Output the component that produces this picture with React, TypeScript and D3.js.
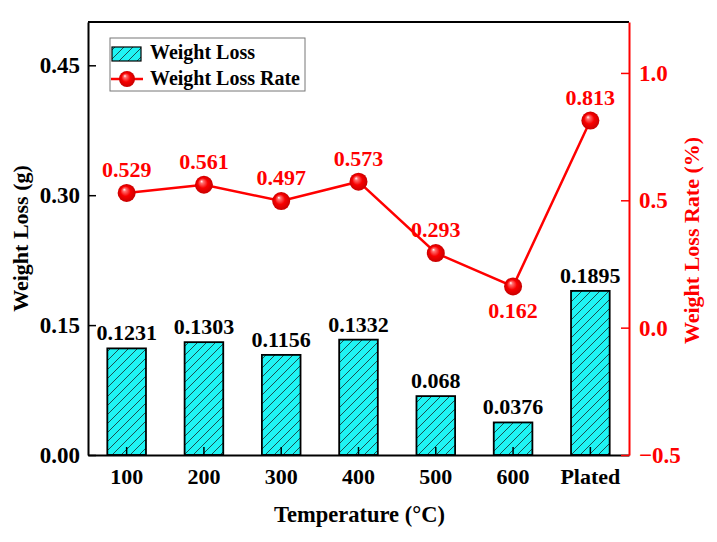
import React, { useEffect, useRef } from 'react';
import * as d3 from 'd3';

const categories = ['100', '200', '300', '400', '500', '600', 'Plated'];
const weightLoss = [0.1231, 0.1303, 0.1156, 0.1332, 0.068, 0.0376, 0.1895];
const weightLossLabels = ['0.1231', '0.1303', '0.1156', '0.1332', '0.068', '0.0376', '0.1895'];
const lossRate = [0.529, 0.561, 0.497, 0.573, 0.293, 0.162, 0.813];
const leftTicks = [0, 0.15, 0.3, 0.45];
const rightTicks = [-0.5, 0, 0.5, 1.0];

const FONT = '"Liberation Serif", "Times New Roman", serif';
const RED = '#ff0000';

export default function App() {
  const ref = useRef<SVGSVGElement>(null);

  useEffect(() => {
    if (!ref.current) return;
    const svg = d3.select(ref.current);
    svg.selectAll('*').remove();

    const left = 88, right = 629, top = 22, bottom = 455;

    const x = d3.scaleBand<string>()
      .domain(categories)
      .range([left, right])
      .paddingInner(0.5)
      .paddingOuter(0.25);

    const yL = d3.scaleLinear().domain([0, 0.5]).range([bottom, top]);
    const yR = d3.scaleLinear().domain([-0.5, 1.2]).range([bottom, top]);

    const defs = svg.append('defs');
    // hatch for bars
    const pat = defs.append('pattern')
      .attr('id', 'hatch')
      .attr('patternUnits', 'userSpaceOnUse')
      .attr('width', 9)
      .attr('height', 9);
    pat.append('rect').attr('width', 9).attr('height', 9).attr('fill', '#1ff4f4');
    pat.append('path')
      .attr('d', 'M-1,1 L1,-1 M0,9 L9,0 M8,10 L10,8')
      .attr('stroke', '#1b3d3d')
      .attr('stroke-width', 0.9);

    // shiny sphere marker
    const grad = defs.append('radialGradient')
      .attr('id', 'ball')
      .attr('cx', '0.5').attr('cy', '0.5').attr('r', '0.5')
      .attr('fx', '0.36').attr('fy', '0.3');
    grad.append('stop').attr('offset', '0%').attr('stop-color', '#ffffff');
    grad.append('stop').attr('offset', '18%').attr('stop-color', '#ff7070');
    grad.append('stop').attr('offset', '55%').attr('stop-color', '#f80000');
    grad.append('stop').attr('offset', '100%').attr('stop-color', '#c80000');

    // bars
    svg.append('g')
      .selectAll('rect')
      .data(weightLoss)
      .join('rect')
      .attr('x', (_, i) => x(categories[i])!)
      .attr('y', d => yL(d))
      .attr('width', x.bandwidth())
      .attr('height', d => yL(0) - yL(d))
      .attr('fill', 'url(#hatch)')
      .attr('stroke', '#000')
      .attr('stroke-width', 1.8);

    // bar labels
    svg.append('g')
      .selectAll('text')
      .data(weightLoss)
      .join('text')
      .attr('x', (_, i) => x(categories[i])! + x.bandwidth() / 2)
      .attr('y', d => yL(d) - 8)
      .attr('text-anchor', 'middle')
      .style('font-family', FONT)
      .style('font-weight', 'bold')
      .style('font-size', '22px')
      .text((_, i) => weightLossLabels[i]);

    // frame: top line
    svg.append('line')
      .attr('x1', left).attr('x2', right)
      .attr('y1', top).attr('y2', top)
      .attr('stroke', '#000').attr('stroke-width', 2);

    // bottom axis
    const xAxis = svg.append('g')
      .attr('transform', `translate(0,${bottom})`)
      .call(d3.axisBottom(x).tickSizeInner(-8).tickSizeOuter(0).tickPadding(13));
    xAxis.select('.domain').attr('stroke', '#000').attr('stroke-width', 2);
    xAxis.selectAll('line').attr('stroke', '#000').attr('stroke-width', 1.5);
    xAxis.selectAll('text')
      .attr('fill', '#000')
      .style('font-family', FONT)
      .style('font-weight', 'bold')
      .style('font-size', '22px');

    // left axis
    const lAxis = svg.append('g')
      .attr('transform', `translate(${left},0)`)
      .call(d3.axisLeft(yL).tickValues(leftTicks).tickFormat(d3.format('.2f'))
        .tickSizeInner(-8).tickSizeOuter(0).tickPadding(8));
    lAxis.select('.domain').attr('stroke', '#000').attr('stroke-width', 2);
    lAxis.selectAll('line').attr('stroke', '#000').attr('stroke-width', 1.5);
    lAxis.selectAll('text')
      .attr('fill', '#000')
      .style('font-family', FONT)
      .style('font-weight', 'bold')
      .style('font-size', '23px');

    // right axis
    const rAxis = svg.append('g')
      .attr('transform', `translate(${right},0)`)
      .call(d3.axisRight(yR).tickValues(rightTicks).tickFormat(d3.format('.1f'))
        .tickSizeInner(-8).tickSizeOuter(0).tickPadding(10));
    rAxis.select('.domain').attr('stroke', RED).attr('stroke-width', 2);
    rAxis.selectAll('line').attr('stroke', RED).attr('stroke-width', 1.5);
    rAxis.selectAll('text')
      .attr('fill', RED)
      .style('font-family', FONT)
      .style('font-weight', 'bold')
      .style('font-size', '23px');

    // rate line
    const cx = (i: number) => x(categories[i])! + x.bandwidth() / 2;
    const line = d3.line<number>()
      .x((_, i) => cx(i))
      .y(d => yR(d));
    svg.append('path')
      .datum(lossRate)
      .attr('d', line)
      .attr('fill', 'none')
      .attr('stroke', RED)
      .attr('stroke-width', 2.5);

    svg.append('g')
      .selectAll('circle')
      .data(lossRate)
      .join('circle')
      .attr('cx', (_, i) => cx(i))
      .attr('cy', d => yR(d))
      .attr('r', 9)
      .attr('fill', 'url(#ball)');

    // rate labels (the minimum sits below its point)
    const minRate = d3.min(lossRate)!;
    svg.append('g')
      .selectAll('text')
      .data(lossRate)
      .join('text')
      .attr('x', (_, i) => cx(i))
      .attr('y', d => d === minRate ? yR(d) + 32 : yR(d) - 16)
      .attr('text-anchor', 'middle')
      .attr('fill', RED)
      .style('font-family', FONT)
      .style('font-weight', 'bold')
      .style('font-size', '22px')
      .text(d => d.toFixed(3));

    // axis titles
    svg.append('text')
      .attr('transform', `translate(28,${(top + bottom) / 2}) rotate(-90)`)
      .attr('text-anchor', 'middle')
      .style('font-family', FONT)
      .style('font-weight', 'bold')
      .style('font-size', '22px')
      .text('Weight Loss (g)');

    svg.append('text')
      .attr('transform', `translate(699,${(top + bottom) / 2 + 2}) rotate(-90)`)
      .attr('text-anchor', 'middle')
      .attr('fill', RED)
      .style('font-family', FONT)
      .style('font-weight', 'bold')
      .style('font-size', '22px')
      .text('Weight Loss Rate (%)');

    svg.append('text')
      .attr('x', (left + right) / 2 + 1)
      .attr('y', 522)
      .attr('text-anchor', 'middle')
      .style('font-family', FONT)
      .style('font-weight', 'bold')
      .style('font-size', '22.5px')
      .text('Temperature (°C)');

    // legend
    const lg = svg.append('g');
    lg.append('rect')
      .attr('x', 110).attr('y', 38)
      .attr('width', 195).attr('height', 53)
      .attr('fill', '#fff')
      .attr('stroke', '#777')
      .attr('stroke-width', 1);
    lg.append('rect')
      .attr('x', 112).attr('y', 47)
      .attr('width', 29).attr('height', 14)
      .attr('fill', 'url(#hatch)')
      .attr('stroke', '#000')
      .attr('stroke-width', 1.2);
    lg.append('text')
      .attr('x', 150).attr('y', 59)
      .style('font-family', FONT)
      .style('font-weight', 'bold')
      .style('font-size', '20px')
      .text('Weight Loss');
    lg.append('line')
      .attr('x1', 111).attr('x2', 143)
      .attr('y1', 79).attr('y2', 79)
      .attr('stroke', RED).attr('stroke-width', 2.5);
    lg.append('circle')
      .attr('cx', 127).attr('cy', 79).attr('r', 8)
      .attr('fill', 'url(#ball)');
    lg.append('text')
      .attr('x', 150).attr('y', 85)
      .style('font-family', FONT)
      .style('font-weight', 'bold')
      .style('font-size', '20px')
      .text('Weight Loss Rate');
  }, []);

  return (
    <svg
      ref={ref}
      width={717}
      height={542}
      style={{ position: 'absolute', left: 0, top: 0, background: '#fff' }}
    />
  );
}
